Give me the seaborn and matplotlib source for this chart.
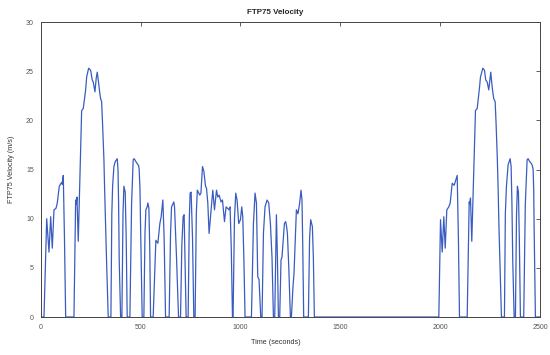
import numpy as np
import pandas as pd
import matplotlib
matplotlib.use("Agg")
import matplotlib.pyplot as plt
import seaborn as sns

# Cold start + stabilized phase
cold_time = [0, 16.5, 30, 41.5, 50, 58, 66.5, 76.5, 83, 93, 105, 108, 113, 119, 125,
             166.5, 175, 178, 181.5, 188, 205, 213, 225, 230, 240, 250, 258, 263,
             271.5, 278, 283, 290, 295, 300, 305, 310, 316.5, 320, 325, 330, 338,
             351.5, 356, 360, 366.5, 373, 383, 387, 390, 393, 400,
             406.5, 412, 416.5, 423, 428, 433,
             446.5, 455, 463, 468, 476.5, 483, 490, 493, 497, 500, 508,
             516.5, 522, 526.5, 533, 536.5, 541.5, 546, 550,
             563, 576.5, 586.5, 596.5, 603, 611.5, 618, 625,
             643, 650, 655, 666.5, 670, 680, 690,
             700, 706.5, 713, 718, 728,
             738, 744, 748, 753, 760, 766.5,
             773, 779, 784, 796.5, 802, 810, 817, 825, 830, 836.5, 843, 850, 856.5,
             861.5, 870, 880, 886.5, 893, 903, 910, 920, 928, 938, 943, 948, 954, 960,
             963, 970, 976.5, 983, 991.5, 1000, 1006.5, 1011.5, 1017, 1023,
             1055, 1065, 1073, 1080, 1086.5, 1093, 1101.5,
             1108, 1115, 1123, 1133, 1141.5, 1150, 1158, 1165,
             1171.5, 1180, 1185, 1190,
             1196.5, 1203, 1208, 1220, 1226.5, 1231, 1235, 1242, 1250,
             1255, 1263, 1268, 1280, 1288, 1296.5, 1303, 1308, 1312, 1316.5,
             1340, 1346, 1351.5, 1360, 1365, 1370]
cold_speed = [0, 0, 10, 6.6, 10.2, 7, 10.9, 11.05, 11.6, 13.3, 13.7, 13.5, 14.4, 8, 0,
              0, 11.9, 11.5, 12.2, 7.7, 21, 21.2, 23.1, 24.4, 25.3, 25.1, 24.1, 23.9,
              22.9, 24.3, 24.9, 23.8, 22.9, 22.2, 21.9, 19.5, 16, 13, 9.2, 5.5, 0,
              0, 10.5, 13.3, 15.3, 15.8, 16.1, 15.0, 11.5, 5.8, 0,
              0, 10.5, 13.3, 12.7, 8, 0,
              0, 11.5, 16, 16.1, 15.8, 15.6, 15.4, 15.0, 13, 9.2, 0,
              0, 8.5, 10.9, 11.2, 11.6, 11.1, 7, 0,
              0, 7.8, 7.5, 9.5, 10.2, 11.9, 8, 0,
              0, 8.5, 11.2, 11.7, 11.2, 6, 0,
              0, 7.3, 10.2, 10.4, 0,
              0, 10, 12.6, 12.7, 8, 0,
              0, 10.5, 12.9, 12.4, 12.6, 15.3, 14.8, 13.3, 13.1, 11.6, 8.5, 10.2, 11.9,
              12.9, 10.9, 12.9, 12.2, 12.4, 11.7, 11.9, 9.7, 11.2, 11.0, 10.9, 11.2, 7, 0,
              0, 10, 12.6, 11.9, 9.5, 9.9, 11.2, 10.2, 6, 0,
              0, 9.5, 12.6, 11.6, 4.1, 3.8, 0,
              0, 8.5, 11.2, 11.9, 11.6, 9.5, 6, 0,
              0, 10.4, 6, 0,
              0, 5.8, 6.1, 9.5, 9.7, 9.2, 8.5, 5, 0,
              0, 3.1, 4.4, 10.9, 10.5, 11.6, 12.9, 11.9, 7, 0,
              0, 8, 9.9, 9.2, 6, 0]

# Hot start phase after the soak
hot_time = [1993, 2001.5, 2010, 2018, 2025, 2033, 2043, 2050, 2060, 2070, 2085, 2091, 2096.5,
            2135, 2145, 2148, 2151.5, 2158, 2176.5, 2185, 2196.5, 2201.5, 2213,
            2221.5, 2228, 2235, 2243, 2253, 2258, 2263, 2268, 2275, 2280, 2286, 2290,
            2294, 2299, 2306.5,
            2321.5, 2326, 2331.5, 2340, 2350, 2355, 2359, 2363, 2370,
            2376.5, 2382, 2386.5, 2391.5, 2396, 2401.5,
            2418, 2426, 2435, 2440, 2448, 2456.5, 2461, 2465, 2468, 2470, 2476.5, 2500]
hot_speed = [0, 9.9, 6.6, 10.2, 7, 10.9, 11.2, 11.6, 13.6, 13.4, 14.4, 8, 0,
             0, 11.7, 11.5, 12.1, 7.7, 21, 21.2, 23.3, 24.4, 25.3,
             25.1, 24.1, 23.9, 23.1, 24.9, 23.8, 22.9, 22.2, 21.9, 19.5, 16, 13,
             9.2, 5.5, 0,
             0, 10.5, 13.3, 15.5, 16.1, 15.3, 11.5, 5.8, 0,
             0, 10.5, 13.3, 12.7, 8, 0,
             0, 11.5, 16, 16.1, 15.8, 15.6, 15.4, 15.0, 13, 9.2, 0, 0]

df = pd.DataFrame({"time": cold_time + hot_time, "speed": cold_speed + hot_speed})

sns.set_style("white")
plt.rcParams["font.family"] = ["Liberation Sans", "DejaVu Sans"]

fig = plt.figure(figsize=(5.5, 3.55), dpi=100)
ax = fig.add_axes([0.074, 0.107, 0.908, 0.831])

sns.lineplot(data=df, x="time", y="speed", sort=False, color="#3a5cc0",
             linewidth=0.9, ax=ax)

ax.set_xlim(0, 2500)
ax.set_ylim(0, 30)
ax.set_xticks(range(0, 2501, 500))
ax.set_yticks(range(0, 31, 5))
ax.tick_params(direction="in", top=True, right=True, length=3, width=0.6,
               labelsize=5, colors="#444444", labelcolor="#555555", pad=5)
for s in ax.spines.values():
    s.set_color("#444444")
    s.set_linewidth(0.7)

ax.set_title("FTP75 Velocity", fontsize=5.8, fontweight="bold", pad=6, x=0.47)
ax.set_xlabel("Time (seconds)", fontsize=5.2, color="#333333", labelpad=6)
ax.xaxis.set_label_coords(0.47, -0.075)
ax.set_ylabel("FTP75 Velocity (m/s)", fontsize=5.2, color="#333333", labelpad=8)

fig.savefig("out.png", dpi=100)
